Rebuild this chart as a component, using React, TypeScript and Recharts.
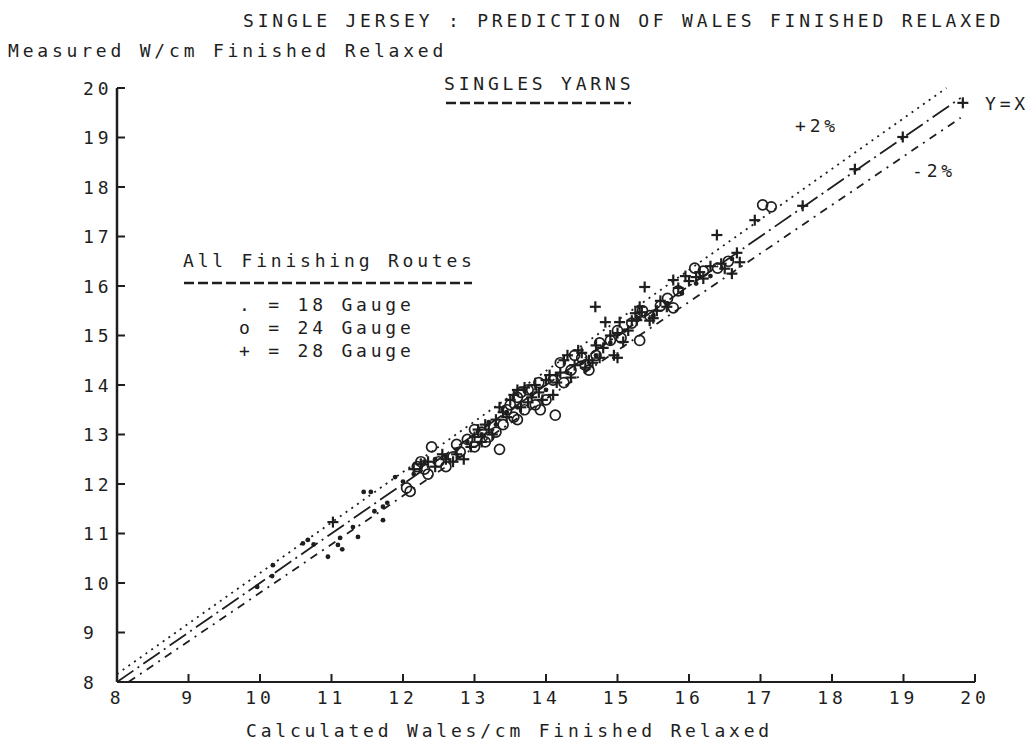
import React from 'react';
import { ScatterChart, Scatter, XAxis, YAxis, ReferenceLine } from 'recharts';

const FONT = '"DejaVu Sans Mono", "Liberation Mono", monospace';
const INK = '#1e1e1e';

const axisTicks = [8, 9, 10, 11, 12, 13, 14, 15, 16, 17, 18, 19, 20];

// [calculated, measured] wales/cm
const gauge18: [number, number][] = [
  [9.96, 9.92], [10.17, 10.14], [10.18, 10.36], [10.6, 10.8], [10.67, 10.87],
  [10.75, 10.78], [10.95, 10.53], [11.09, 10.77], [11.12, 10.91], [11.15, 10.68],
  [11.3, 11.13], [11.37, 10.93], [11.45, 11.84], [11.55, 11.84], [11.6, 11.45],
  [11.72, 11.54], [11.72, 11.27], [11.78, 11.62], [11.89, 12.14], [12.0, 12.05],
  [12.15, 12.2], [12.3, 12.45], [12.45, 12.5], [12.6, 12.55], [12.75, 12.7],
  [12.9, 12.85], [13.1, 13.0], [13.2, 13.25], [13.3, 13.2], [13.45, 13.45],
  [13.6, 13.55], [13.8, 13.8], [14.0, 13.9], [14.15, 14.2], [14.3, 14.25],
  [14.5, 14.45], [14.7, 14.6], [14.9, 14.85], [15.1, 15.1], [15.3, 15.35],
  [15.5, 15.4], [15.7, 15.65], [15.9, 15.85], [16.1, 16.05], [16.3, 16.2],
  [16.6, 16.55],
];

const gauge24: [number, number][] = [
  [12.1, 11.85], [12.05, 11.92], [12.2, 12.35], [12.25, 12.45], [12.3, 12.3],
  [12.4, 12.75], [12.35, 12.2], [12.5, 12.45], [12.6, 12.35], [12.7, 12.55],
  [12.75, 12.8], [12.8, 12.65], [12.9, 12.9], [13.0, 12.75], [13.0, 13.1],
  [13.1, 13.05], [13.15, 12.85], [13.2, 12.95], [13.3, 13.05], [13.35, 12.7],
  [13.4, 13.2], [13.45, 13.5], [13.5, 13.6], [13.55, 13.35], [13.6, 13.3],
  [13.6, 13.75], [13.65, 13.85], [13.7, 13.5], [13.75, 13.9], [13.8, 13.9],
  [13.85, 13.6], [13.92, 13.5], [13.9, 14.05], [14.0, 13.7], [14.13, 13.39],
  [14.1, 14.1], [14.2, 14.45], [14.25, 14.05], [14.35, 14.3], [14.4, 14.6],
  [14.5, 14.55], [14.55, 14.4], [14.6, 14.3], [14.7, 14.6], [14.75, 14.85],
  [14.9, 14.9], [15.0, 15.1], [15.05, 14.95], [15.31, 14.9], [15.2, 15.25],
  [15.35, 15.5], [15.45, 15.4], [15.6, 15.6], [15.7, 15.75], [15.78, 15.56],
  [15.85, 15.9], [16.08, 16.36], [16.2, 16.3], [16.4, 16.36], [16.55, 16.5],
  [17.03, 17.64], [17.15, 17.6],
];

const gauge28: [number, number][] = [
  [11.02, 11.23], [12.15, 12.3], [12.25, 12.4], [12.35, 12.45], [12.45, 12.35],
  [12.55, 12.6], [12.6, 12.5], [12.7, 12.45], [12.75, 12.6], [12.85, 12.5],
  [12.95, 12.75], [13.0, 12.95], [13.05, 13.1], [13.1, 12.85], [13.15, 13.2],
  [13.2, 13.1], [13.25, 13.0], [13.3, 13.3], [13.35, 13.55], [13.4, 13.45],
  [13.45, 13.35], [13.5, 13.7], [13.55, 13.8], [13.6, 13.9], [13.65, 13.55],
  [13.7, 13.95], [13.75, 13.65], [13.8, 13.75], [13.85, 14.0], [13.9, 13.85],
  [13.95, 13.7], [14.0, 14.1], [14.05, 14.2], [14.1, 13.8], [14.15, 14.05],
  [14.2, 14.25], [14.25, 14.5], [14.3, 14.6], [14.35, 14.15], [14.4, 14.4],
  [14.45, 14.7], [14.5, 14.65], [14.55, 14.35], [14.6, 14.5], [14.65, 14.45],
  [14.69, 15.58], [14.7, 14.8], [14.75, 14.55], [14.8, 14.75], [14.83, 15.27],
  [14.9, 15.0], [14.95, 14.6], [15.0, 14.55], [15.03, 15.27], [15.0, 15.05],
  [15.08, 14.87], [15.15, 15.1], [15.2, 15.3], [15.25, 15.45], [15.27, 15.31],
  [15.31, 15.58], [15.34, 15.47], [15.38, 15.98], [15.45, 15.3], [15.5, 15.35],
  [15.55, 15.5], [15.6, 15.7], [15.69, 15.58], [15.78, 16.12], [15.85, 15.96],
  [15.95, 16.2], [16.0, 16.1], [16.1, 16.18], [16.15, 16.28], [16.2, 16.15],
  [16.3, 16.4], [16.39, 17.03], [16.45, 16.45], [16.5, 16.35], [16.6, 16.25],
  [16.67, 16.67], [16.71, 16.48], [16.92, 17.33], [17.59, 17.62], [18.32, 18.36],
  [18.99, 19.01], [19.83, 19.7],
];

// reference lines: Y=X and +/-2%
const lineYeqX = [{ x: 8, y: 8 }, { x: 19.8, y: 19.8 }];
const linePlus2 = [{ x: 8, y: 8.16 }, { x: 19.6, y: 20 }];
const lineMinus2 = [{ x: 8.16, y: 8 }, { x: 19.8, y: 19.4 }];

const toPoints = (arr: [number, number][]) => arr.map(([x, y]) => ({ x, y }));

const DotShape = (p: any) => <circle cx={p.cx} cy={p.cy} r={2.4} fill={INK} />;
const RingShape = (p: any) => (
  <circle cx={p.cx} cy={p.cy} r={5} fill="none" stroke={INK} strokeWidth={1.7} />
);
const PlusShape = (p: any) => (
  <g stroke={INK} strokeWidth={2.2}>
    <line x1={p.cx - 5.5} y1={p.cy} x2={p.cx + 5.5} y2={p.cy} />
    <line x1={p.cx} y1={p.cy - 5.5} x2={p.cx} y2={p.cy + 5.5} />
  </g>
);

const textStyle = { fontFamily: FONT, fontSize: 18, letterSpacing: '3.8px', fill: INK };

const XTick = (p: any) => (
  <text x={p.x} y={p.y} textAnchor="middle" dominantBaseline="central" style={textStyle}>
    {p.payload.value}
  </text>
);
const YTick = (p: any) => (
  <text x={p.x} y={p.y} textAnchor="start" dominantBaseline="central" style={textStyle}>
    {p.payload.value}
  </text>
);

function Annotations() {
  const t = (x: number, y: number, s: string) => (
    <text x={x} y={y} dominantBaseline="central" style={textStyle}>
      {s}
    </text>
  );
  return (
    <svg
      width={1032}
      height={744}
      style={{ position: 'absolute', left: 0, top: 0, pointerEvents: 'none' }}
    >
      {t(243, 20, 'SINGLE JERSEY : PREDICTION OF WALES FINISHED RELAXED')}
      {t(8, 50, 'Measured W/cm Finished Relaxed')}
      {t(444, 83, 'SINGLES YARNS')}
      <line x1={446} y1={103} x2={631} y2={103} stroke={INK} strokeWidth={2.5} strokeDasharray="10 4" />
      {t(183, 260, 'All Finishing Routes')}
      <line x1={184} y1={283} x2={472} y2={283} stroke={INK} strokeWidth={2.5} strokeDasharray="10 4" />
      {t(239, 304, '. = 18 Gauge')}
      {t(239, 327, 'o = 24 Gauge')}
      {t(239, 350, '+ = 28 Gauge')}
      {t(795, 125, '+2%')}
      {t(912, 170, '-2%')}
      {t(985, 103, 'Y=X')}
      {t(246, 730, 'Calculated Wales/cm Finished Relaxed')}
    </svg>
  );
}

export default function App() {
  return (
    <div
      style={{
        position: 'absolute',
        left: 0,
        top: 0,
        width: 1032,
        height: 744,
        background: '#fff',
      }}
    >
      <ScatterChart
        width={1032}
        height={744}
        margin={{ top: 88, right: 57, bottom: 32, left: 57 }}
      >
        <XAxis
          type="number"
          dataKey="x"
          domain={[8, 20]}
          ticks={axisTicks}
          interval={0}
          allowDataOverflow
          height={30}
          axisLine={{ stroke: INK, strokeWidth: 2 }}
          tickLine={{ stroke: INK, strokeWidth: 2 }}
          tickSize={-8}
          tickMargin={23}
          tick={<XTick />}
        />
        <YAxis
          type="number"
          dataKey="y"
          domain={[8, 20]}
          ticks={axisTicks}
          interval={0}
          allowDataOverflow
          width={60}
          axisLine={{ stroke: INK, strokeWidth: 2.5 }}
          tickLine={{ stroke: INK, strokeWidth: 2 }}
          tickSize={-8}
          tickMargin={42}
          tick={<YTick />}
        />
        <ReferenceLine segment={linePlus2} stroke={INK} strokeWidth={1.8} strokeDasharray="2 5" />
        <ReferenceLine segment={lineYeqX} stroke={INK} strokeWidth={1.8} strokeDasharray="20 5 2 5" />
        <ReferenceLine segment={lineMinus2} stroke={INK} strokeWidth={1.8} strokeDasharray="8 6 2 6" />
        <Scatter data={toPoints(gauge18)} shape={DotShape} isAnimationActive={false} />
        <Scatter data={toPoints(gauge24)} shape={RingShape} isAnimationActive={false} />
        <Scatter data={toPoints(gauge28)} shape={PlusShape} isAnimationActive={false} />
      </ScatterChart>
      <Annotations />
    </div>
  );
}
